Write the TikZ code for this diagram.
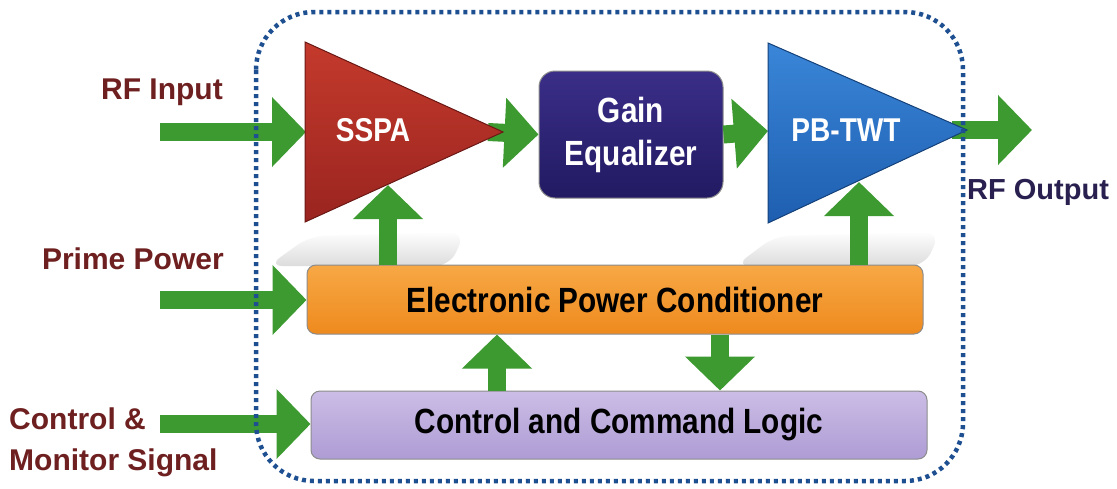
\documentclass[tikz,border=0pt]{standalone}
\usepackage{fontspec}
\setmainfont{Liberation Sans}
\newfontfamily\boxfont[FakeStretch=0.85]{Liberation Sans}
\usetikzlibrary{arrows.meta,fadings}
\definecolor{labred}{HTML}{6E1F1F}
\definecolor{labnavy}{HTML}{2A2050}
\definecolor{dotblue}{HTML}{1D4F91}
\definecolor{garr}{HTML}{3C9A30}
\definecolor{sspaT}{HTML}{C43A2C}
\definecolor{sspaB}{HTML}{9A2420}
\definecolor{pbT}{HTML}{3A86D8}
\definecolor{pbB}{HTML}{1E5EB0}
\definecolor{gainT}{HTML}{3A2E88}
\definecolor{gainB}{HTML}{221A62}
\definecolor{epcT}{HTML}{F7A845}
\definecolor{epcB}{HTML}{EE8A1E}
\definecolor{cclT}{HTML}{CBBDE6}
\definecolor{cclB}{HTML}{AE9CD4}
\tikzset{
  garrow/.style={draw=garr, line width=18pt,
    -{Triangle[width=68pt,length=34pt]}, color=garr},
  label/.style={font=\bfseries\fontsize{30}{34}\selectfont, text=labred, inner sep=0pt},
  block/.style={rounded corners=9pt, draw=black!45, line width=1pt, inner sep=0pt},
  blocktext/.style={font=\boxfont\bfseries\fontsize{35}{43}\selectfont},
  tritext/.style={font=\boxfont\bfseries\fontsize{33}{38}\selectfont, text=white},
  border/.style={draw=dotblue, line width=4.5pt, dash pattern=on 4pt off 4pt, rounded corners=58pt},
  softshadow/.style={fill=black!30, opacity=0.45, path fading=north}
}
\begin{document}
\begin{tikzpicture}[x=1pt,y=-1pt]
\useasboundingbox (0,0) rectangle (1117,488);
\fill[white] (0,0) rectangle (1117,488);

% faint shadows
\fill[softshadow, rounded corners=15pt]
  (310,236) -- (465,232) -- (450,266) -- (268,266) -- cycle;
\fill[softshadow, rounded corners=15pt]
  (775,236) -- (940,232) -- (925,266) -- (735,266) -- cycle;

% blocks
\node[block, top color=gainT, bottom color=gainB, minimum width=184pt, minimum height=127pt,
  rounded corners=16pt, text=white, blocktext, align=center] (gain) at (631,134.5) {Gain\\Equalizer};
\node[block, top color=epcT, bottom color=epcB, minimum width=616pt, minimum height=69pt,
  blocktext] (epc) at (615,299.5) {Electronic Power Conditioner};
\node[block, top color=cclT, bottom color=cclB, minimum width=616pt, minimum height=68pt,
  blocktext] (ccl) at (619,425) {Control and Command Logic};

% amplifier triangle anchor points
\coordinate (sspaIn) at (306,132);
\coordinate (sspaOut) at (488,132);
\coordinate (sspaBot) at (388,185);
\coordinate (pbIn) at (768,131);
\coordinate (pbOut) at (952,130);
\coordinate (pbBot) at (859,182);

% free ends
\coordinate (rfin) at (160,132);
\coordinate (ppin) at (160,300);
\coordinate (cmin) at (160,424);
\coordinate (rfout) at (1032,130);

% connectors
\draw[garrow] (rfin) -- (sspaIn);
\draw[garrow] (sspaOut) -- (gain.west);
\draw[garrow] (gain.east) -- (pbIn);
\draw[garrow] (pbOut) -- (rfout);
\draw[garrow] (epc.north -| sspaBot) -- (sspaBot);
\draw[garrow] (epc.north -| pbBot) -- (pbBot);
\draw[garrow] (ppin) -- (epc.west |- ppin);
\draw[garrow] (cmin) -- (ccl.west |- cmin);
\draw[garrow] (ccl.north -| 497,0) -- (epc.south -| 497,0);
\draw[garrow] (epc.south -| 720,0) -- (ccl.north -| 720,0);

% amplifiers
\fill[top color=sspaT, bottom color=sspaB, draw=sspaB!70!black, line width=1pt]
  (305,42) -- (503,132) -- (305,222) -- cycle;
\node[tritext] (sspa) at (373,130) {SSPA};
\fill[top color=pbT, bottom color=pbB, draw=pbB!70!black, line width=1pt]
  (768,43) -- (967,130) -- (768,223) -- cycle;
\node[tritext] (pb) at (846,130) {PB-TWT};

% dotted boundary
\draw[border] (256,12) rectangle (963,481);

% labels
\node[label, anchor=base east] (l1) at (223,99) {RF Input};
\node[label, anchor=base east] (l2) at (224,269) {Prime Power};
\node[label, anchor=base west, align=left] (l3) at (9,429) {Control \&};
\node[label, anchor=base west] (l4) at (9,470) {Monitor Signal};
\node[label, anchor=base west, text=labnavy, font=\bfseries\fontsize{29}{34}\selectfont] (l5) at (967,199) {RF Output};
\end{tikzpicture}
\end{document}
